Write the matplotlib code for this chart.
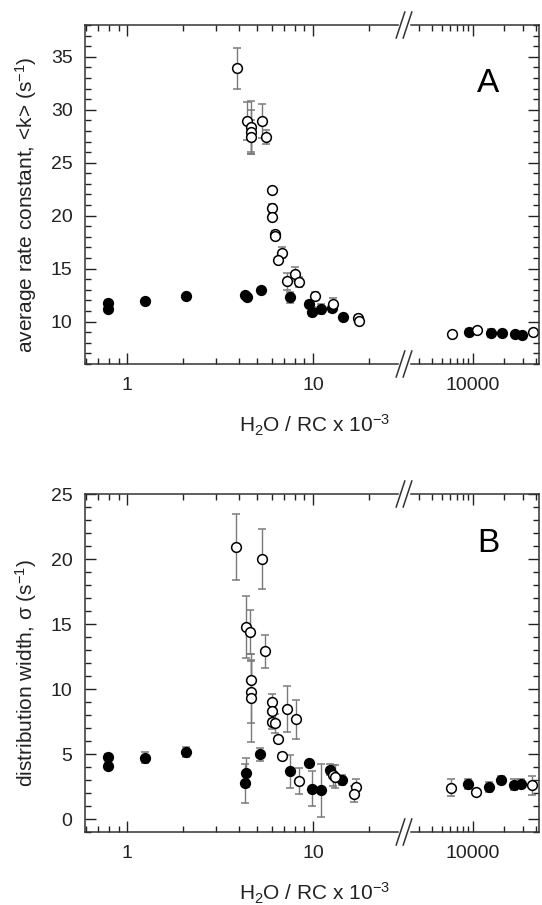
import matplotlib.pyplot as plt
from matplotlib.lines import Line2D

plt.rcParams['font.family'] = ['Liberation Sans', 'DejaVu Sans']
plt.rcParams['mathtext.fontset'] = 'custom'
plt.rcParams['mathtext.rm'] = 'Liberation Sans'
plt.rcParams['mathtext.it'] = 'Liberation Sans:italic'

# ---- data: panel A (average rate constant) ----
a_filled_x = [0.79, 0.79, 1.25, 2.07, 4.33, 4.42, 5.25, 7.57, 9.58, 9.91, 11.1, 12.7, 14.5,
              9200, 15000, 19000, 25500, 29500]
a_filled_y = [11.8, 11.2, 11.9, 12.4, 12.5, 12.3, 13.0, 12.3, 11.7, 10.95, 11.2, 11.3, 10.4,
              9.0, 8.95, 8.9, 8.8, 8.75]
a_filled_err = [0.2, 0.2, 0.2, 0.2, 0.2, 0.2, 0.2, 0.5, 0.2, 0.4, 0.5, 0.4, 0.2,
                0.3, 0.4, 0.2, 0.2, 0.2]

a_open_x = [3.92, 4.40, 4.62, 4.62, 4.62, 5.30, 5.59, 6.04, 6.04, 6.04, 6.22, 6.22,
            6.84, 6.51, 8.03, 7.22, 8.41, 10.2, 12.9, 17.5, 17.8,
            6300, 11000, 38000]
a_open_y = [33.9, 28.9, 28.4, 27.9, 27.4, 28.9, 27.4, 22.4, 20.7, 19.9, 18.3, 18.1,
            16.5, 15.8, 14.5, 13.8, 13.75, 12.4, 11.7, 10.3, 10.1,
            8.8, 9.2, 9.0]
a_open_err = [1.9, 1.8, 2.4, 2.1, 1.6, 1.6, 0.65, 0.2, 0.4, 0.2, 0.3, 0.3,
              0.5, 0.2, 0.7, 0.8, 0.5, 0.4, 0.5, 0.3, 0.3,
              0.2, 0.2, 0.2]

# ---- data: panel B (distribution width) ----
b_filled_x = [0.79, 0.79, 1.25, 2.07, 4.30, 4.39, 5.19, 7.5, 9.55, 9.86, 11.1, 12.4, 14.3,
              9050, 14400, 18450, 24650, 28700]
b_filled_y = [4.8, 4.1, 4.72, 5.15, 2.76, 3.56, 4.97, 3.66, 4.28, 2.33, 2.2, 3.8, 3.0,
              2.68, 2.45, 3.0, 2.65, 2.7]
b_filled_err = [0.2, 0.2, 0.4, 0.4, 1.5, 1.1, 0.5, 1.27, 0.2, 1.35, 2.05, 0.4, 0.4,
                0.4, 0.4, 0.3, 0.4, 0.35]

b_open_x = [3.86, 5.3, 4.38, 4.6, 5.55, 4.65, 4.65, 4.65, 6.0, 6.0, 6.0, 6.28,
            7.25, 8.1, 6.5, 6.82, 8.4, 12.8, 13.1, 17.0, 16.6,
            6180, 10800, 36700]
b_open_y = [20.9, 20.0, 14.75, 14.4, 12.9, 10.66, 9.76, 9.33, 9.0, 8.3, 7.5, 7.35,
            8.45, 7.66, 6.12, 4.84, 2.89, 3.35, 3.25, 2.45, 1.94,
            2.4, 2.11, 2.58]
b_open_err = [2.55, 2.3, 2.4, 1.7, 1.25, 1.6, 2.4, 3.4, 0.6, 0.6, 0.6, 0.7,
              1.75, 1.5, 0.3, 0.2, 1.0, 0.8, 0.9, 0.6, 0.6,
              0.65, 0.15, 0.7]

W, H = 542, 905
fig = plt.figure(figsize=(W / 100, H / 100), dpi=100)

x_left, x_break, x_right = 85, 404, 539


def px_x(p):
    return p / W


def px_y(p):
    return 1 - p / H


def style_axis(ax):
    ax.tick_params(which='both', direction='in', top=True, labelsize=14,
                   colors='#222222', width=1.0, pad=9)
    ax.tick_params(which='major', length=8)
    ax.tick_params(which='minor', length=4.5)
    for s in ax.spines.values():
        s.set_linewidth(1.1)
        s.set_color('#333333')


def draw_points(ax, xs, ys, es, face):
    ax.errorbar(xs, ys, yerr=es, fmt='o', ms=7, mfc=face, mec='black', mew=1.1,
                ecolor='#7a7a7a', elinewidth=1.0, capsize=3.2, capthick=1.0)


def panel(top, bottom, ymin, ymax, yticks, ylabel, letter, letter_y, data):
    ax1 = fig.add_axes([px_x(x_left), px_y(bottom), px_x(x_break - x_left),
                        (bottom - top) / H])
    ax2 = fig.add_axes([px_x(x_break), px_y(bottom), px_x(x_right - x_break),
                        (bottom - top) / H])
    for ax in (ax1, ax2):
        ax.set_xscale('log')
        ax.set_ylim(ymin, ymax)
        style_axis(ax)
        for xs, ys, es, face in data:
            draw_points(ax, xs, ys, es, face)

    ax1.set_xlim(0.594, 30.9)
    ax1.set_xticks([1, 10])
    ax1.set_xticklabels(['1', '10'])
    ax1.set_xticks([0.6, 0.7, 0.8, 0.9, 2, 3, 4, 5, 6, 7, 8, 9, 20], minor=True)
    ax1.set_xticklabels([], minor=True)
    ax1.set_yticks(yticks)
    ax1.set_yticks(range(int(ymin), int(ymax) + 1), minor=True)
    ax1.spines['right'].set_visible(False)
    ax1.tick_params(which='both', right=False)
    ax1.set_ylabel(ylabel, fontsize=15, color='#222222')
    ax1.yaxis.set_label_coords(-0.143, 0.47)

    ax2.set_xlim(2171, 43150)
    ax2.set_xticks([10000])
    ax2.set_xticklabels(['10000'])
    ax2.set_xticks([3000, 4000, 5000, 6000, 7000, 8000, 9000, 20000, 30000, 40000],
                   minor=True)
    ax2.set_xticklabels([], minor=True)
    ax2.set_yticks(yticks)
    ax2.set_yticks(range(int(ymin), int(ymax) + 1), minor=True)
    ax2.spines['left'].set_visible(False)
    ax2.tick_params(which='both', left=False, right=True, labelleft=False)

    fig.text(px_x(315), px_y(bottom + 61), r'H$_2$O / RC x 10$^{-3}$',
             ha='center', va='center', fontsize=15, color='#222222')
    fig.text(px_x(488), px_y(letter_y), letter, ha='center', va='center',
             fontsize=24, color='black')

    # axis break marks
    for yb in (top, bottom):
        fig.add_artist(Line2D([px_x(x_break - 4), px_x(x_break + 4)],
                              [px_y(yb), px_y(yb)], transform=fig.transFigure,
                              color='white', lw=2.5, zorder=10))
        for dx in (-3.5, 3.5):
            fig.add_artist(Line2D([px_x(x_break + dx - 4.3), px_x(x_break + dx + 4.3)],
                                  [px_y(yb + 13), px_y(yb - 13)],
                                  transform=fig.transFigure, color='#333333',
                                  lw=1.1, zorder=11))


panel(25, 364, 6, 38, [10, 15, 20, 25, 30, 35],
      'average rate constant, <k> (s$^{-1}$)', 'A', 83,
      [(a_filled_x, a_filled_y, a_filled_err, 'black'),
       (a_open_x, a_open_y, a_open_err, 'white')])

panel(494, 832, -1, 25, [0, 5, 10, 15, 20, 25],
      'distribution width, σ (s$^{-1}$)', 'B', 544,
      [(b_filled_x, b_filled_y, b_filled_err, 'black'),
       (b_open_x, b_open_y, b_open_err, 'white')])

fig.savefig('out.png', dpi=100)
